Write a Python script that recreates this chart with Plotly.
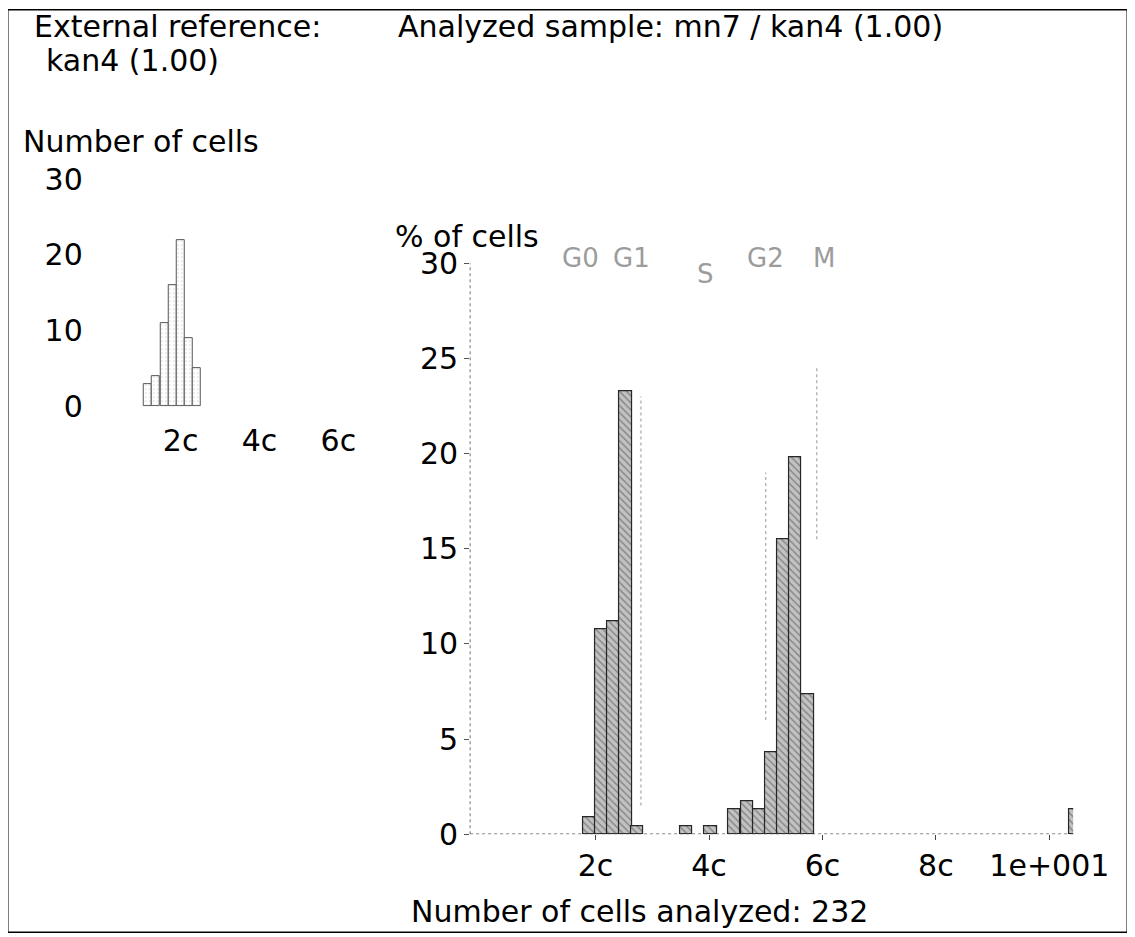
import plotly.graph_objects as go

W, H = 1135, 937
FONT = "DejaVu Sans"
FS = 30

# ---------------- data ----------------
# Main histogram (analyzed sample): DNA content bin centres (c units) and cell counts
main_dna_c = [1.89, 2.10, 2.31, 2.53, 2.74, 3.60, 4.03, 4.45, 4.67, 4.88, 5.10, 5.31, 5.52, 5.74, 10.45]
main_cell_counts = [2, 25, 26, 54, 1, 1, 1, 3, 4, 3, 10, 36, 46, 17, 3]
cells_analyzed = 232
main_pct = [100.0 * n / cells_analyzed for n in main_cell_counts]

# External reference histogram (kan4): bin centres and number of cells
ref_dna_c = [1.17, 1.38, 1.59, 1.79, 2.00, 2.20, 2.41]
ref_cell_counts = [3, 4, 11, 16, 22, 9, 5]

main_x_tickvals = [2, 4, 6, 8, 10]
main_x_ticktext = ["2c", "4c", "6c", "8c", "1e+001"]
main_y_tickvals = [0, 5, 10, 15, 20, 25, 30]
ref_x_tickvals = [2, 4, 6]
ref_x_ticktext = ["2c", "4c", "6c"]
ref_y_tickvals = [0, 10, 20, 30]

phase_labels = ["G0", "G1", "S", "G2", "M"]
phase_label_c = [1.74, 2.64, 3.94, 5.00, 6.02]

gate_c = [2.80, 5.00, 5.90]
gate_lo = [1.5, 6.0, 15.5]
gate_hi = [23.0, 19.0, 24.5]

# ---------------- helpers (page pixel -> paper) ----------------
OX, OY = 7.1, 25.1
EW, EH = 1100.8, 899.6

def px(x):
    return (x - OX) / EW

def py(y):
    return 1 - (y - OY) / EH

fig = go.Figure()

# main bars
fig.add_trace(go.Bar(
    x=main_dna_c, y=main_pct, width=0.214,
    xaxis="x", yaxis="y",
    marker=dict(color="#c2c2c2",
                line=dict(color="#262626", width=1.2),
                pattern=dict(shape="\\", fgcolor="#505050", size=5, solidity=0.3)),
    showlegend=False, hoverinfo="skip",
))

# reference (inset) bars
fig.add_trace(go.Bar(
    x=ref_dna_c, y=ref_cell_counts, width=0.206,
    xaxis="x2", yaxis="y2",
    marker=dict(color="white",
                line=dict(color="#555555", width=1),
                pattern=dict(shape=".", fgcolor="#b0b0b0", size=4, solidity=0.15)),
    showlegend=False, hoverinfo="skip",
))

# faint dotted gate markers
for gc, lo, hi in zip(gate_c, gate_lo, gate_hi):
    fig.add_trace(go.Scatter(
        x=[gc, gc], y=[lo, hi], mode="lines", xaxis="x", yaxis="y",
        line=dict(color="#a8a8a8", width=1.2, dash="dot"),
        showlegend=False, hoverinfo="skip",
    ))

axis_font = dict(family=FONT, size=FS, color="black")

fig.update_layout(
    width=W, height=H,
    margin=dict(l=0, r=0, t=0, b=0),
    paper_bgcolor="white", plot_bgcolor="white",
    bargap=0,
    xaxis=dict(
        domain=[px(470), px(1074)], range=[-0.211, 10.42],
        tickvals=main_x_tickvals, ticktext=main_x_ticktext,
        ticks="outside", ticklen=5, tickcolor="#444", tickwidth=1,
        tickfont=axis_font, ticklabelstandoff=0,
        showgrid=False, zeroline=False, showline=False, anchor="y",
    ),
    yaxis=dict(
        domain=[py(832), py(262)], range=[0, 30],
        tickvals=main_y_tickvals,
        ticks="outside", ticklen=5, tickcolor="#555", tickwidth=1,
        tickfont=axis_font, ticklabelstandoff=0,
        showgrid=False, zeroline=False, showline=False, anchor="x",
    ),
    xaxis2=dict(
        domain=[px(95), px(345)], range=[-0.152, 6.177],
        tickvals=ref_x_tickvals, ticktext=ref_x_ticktext,
        ticks="", tickfont=axis_font, ticklabelstandoff=14,
        showgrid=False, zeroline=False, showline=False, anchor="y2",
    ),
    yaxis2=dict(
        domain=[py(405), py(178)], range=[0, 30],
        tickvals=ref_y_tickvals,
        ticks="", tickfont=axis_font, ticklabelstandoff=12,
        showgrid=False, zeroline=False, showline=False, anchor="x2",
    ),
)

shapes = [
    # main y axis line (dotted)
    dict(type="line", xref="x domain", yref="y", x0=0, x1=0, y0=0, y1=30,
         line=dict(color="#8a8a8a", width=1.2, dash="dot")),
    # main baseline (dotted)
    dict(type="line", xref="x domain", yref="y", x0=0, x1=1, y0=0, y1=0,
         line=dict(color="#555", width=1.2, dash="dot")),
]
fig.update_layout(shapes=shapes)

ann = []
# outer frame drawn as an empty bordered annotation box
ann.append(dict(text=" ", x=px(568), y=py(469), xref="paper", yref="paper",
                xanchor="center", yanchor="middle", showarrow=False,
                width=1118, height=921, bordercolor="black", borderwidth=1.5,
                borderpad=0, font=dict(family=FONT, size=10)))

def text(t, x, y, xanchor="left", color="black", size=FS):
    ann.append(dict(text=t, x=px(x), y=py(y), xref="paper", yref="paper",
                    xanchor=xanchor, yanchor="middle", showarrow=False,
                    font=dict(family=FONT, size=size, color=color)))

text("External reference:", 31, 26)
text("kan4 (1.00)", 43, 60)
text("Analyzed sample: mn7 / kan4 (1.00)", 396, 26)
text("Number of cells", 20, 140)
text("% of cells", 393, 235)
text("Number of cells analyzed: 232", 640, 909, xanchor="center")

phase_y_px = [257, 257, 273, 257, 257]
for lab, c, ypix in zip(phase_labels, phase_label_c, phase_y_px):
    ann.append(dict(text=lab, x=c, y=py(ypix), xref="x", yref="paper",
                    xanchor="center", yanchor="middle", showarrow=False,
                    font=dict(family=FONT, size=26, color="#9c9c9c")))

fig.update_layout(annotations=ann)

fig.write_html("out.html")
